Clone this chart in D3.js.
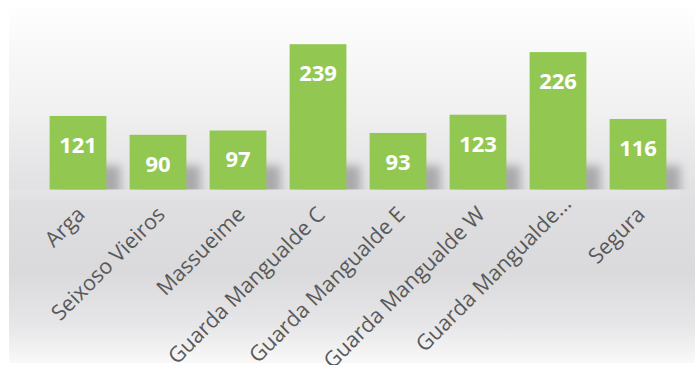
<!DOCTYPE html>
<html>
<head>
<meta charset="utf-8">
<script src="https://cdn.jsdelivr.net/npm/d3@7"></script>
<style>
  html, body { margin: 0; padding: 0; background: #ffffff; }
  svg { display: block; }
</style>
</head>
<body>
<svg id="chart" width="695" height="365"></svg>
<script>
// Site names and counts
const categories = [
  "Arga", "Seixoso Vieiros", "Massueime", "Guarda Mangualde C",
  "Guarda Mangualde E", "Guarda Mangualde W", "Guarda Mangualde...", "Segura"
];
const values = [121, 90, 97, 239, 93, 123, 226, 116];

const W = 695, H = 365;
const svg = d3.select("#chart");
const defs = svg.append("defs");

// Soft vertical background gradient
const bg = defs.append("linearGradient")
  .attr("id", "bgGrad").attr("x1", 0).attr("y1", 0).attr("x2", 0).attr("y2", 1);
[["0%", "#ffffff"], ["30%", "#f1f1f2"], ["55%", "#dfdfe1"], ["75%", "#dadadc"],
 ["90%", "#e7e7e9"], ["100%", "#f9f9f9"]]
  .forEach(([o, c]) => bg.append("stop").attr("offset", o).attr("stop-color", c));

const blur = defs.append("filter").attr("id", "shadowBlur")
  .attr("x", "-50%").attr("y", "-50%").attr("width", "200%").attr("height", "200%");
blur.append("feGaussianBlur").attr("stdDeviation", 4);

const baseline = 189.5;
defs.append("clipPath").attr("id", "aboveBase")
  .append("rect").attr("x", 0).attr("y", 0).attr("width", W).attr("height", baseline);

svg.append("rect").attr("x", 9).attr("y", 0).attr("width", W - 9).attr("height", H - 2)
  .attr("fill", "url(#bgGrad)");

// Scales
const x = d3.scaleBand()
  .domain(categories)
  .range([38, 678])
  .paddingInner(0.29)
  .paddingOuter(0.145);

const y = d3.scaleLinear()
  .domain([0, 250])
  .range([baseline, 37.5]);

// Light floor strip under the bars
svg.append("rect")
  .attr("x", 9).attr("y", baseline).attr("width", 671).attr("height", 10)
  .attr("fill", "#ffffff").attr("opacity", 0.14);

// Bar shadows
svg.append("g").attr("clip-path", "url(#aboveBase)")
  .selectAll("rect").data(values).join("rect")
  .attr("x", (d, i) => x(categories[i]) + 10)
  .attr("y", baseline - 24)
  .attr("width", x.bandwidth() + 4)
  .attr("height", 30)
  .attr("fill", "#7c7c80")
  .attr("opacity", 0.55)
  .attr("filter", "url(#shadowBlur)");

// Bars
svg.append("g").selectAll("rect").data(values).join("rect")
  .attr("x", (d, i) => x(categories[i]))
  .attr("y", d => y(d))
  .attr("width", x.bandwidth())
  .attr("height", d => y(0) - y(d))
  .attr("fill", "#92c851");

// Value labels inside the bar tops
svg.append("g").selectAll("text").data(values).join("text")
  .attr("x", (d, i) => x(categories[i]) + x.bandwidth() / 2)
  .attr("y", d => y(d) + 29)
  .attr("dy", "0.36em")
  .attr("text-anchor", "middle")
  .attr("font-family", "'Open Sans', sans-serif")
  .attr("font-weight", "bold")
  .attr("font-size", 22)
  .attr("fill", "#ffffff")
  .text(d => d);

// Category axis with rotated labels
const axis = svg.append("g")
  .attr("transform", `translate(0,${baseline})`)
  .call(d3.axisBottom(x).tickSize(0));
axis.select(".domain").remove();
axis.selectAll("text")
  .attr("font-family", "'Open Sans', sans-serif")
  .attr("font-size", 21.5)
  .attr("fill", "#595959")
  .attr("text-anchor", "end")
  .attr("x", 0).attr("y", 0)
  .attr("dx", d => d.endsWith("...") ? 12 : 0)
  .attr("dy", d => d.endsWith("...") ? "0.2em" : "0.35em")
  .attr("transform", "translate(3,21) rotate(-45)");
</script>
</body>
</html>
